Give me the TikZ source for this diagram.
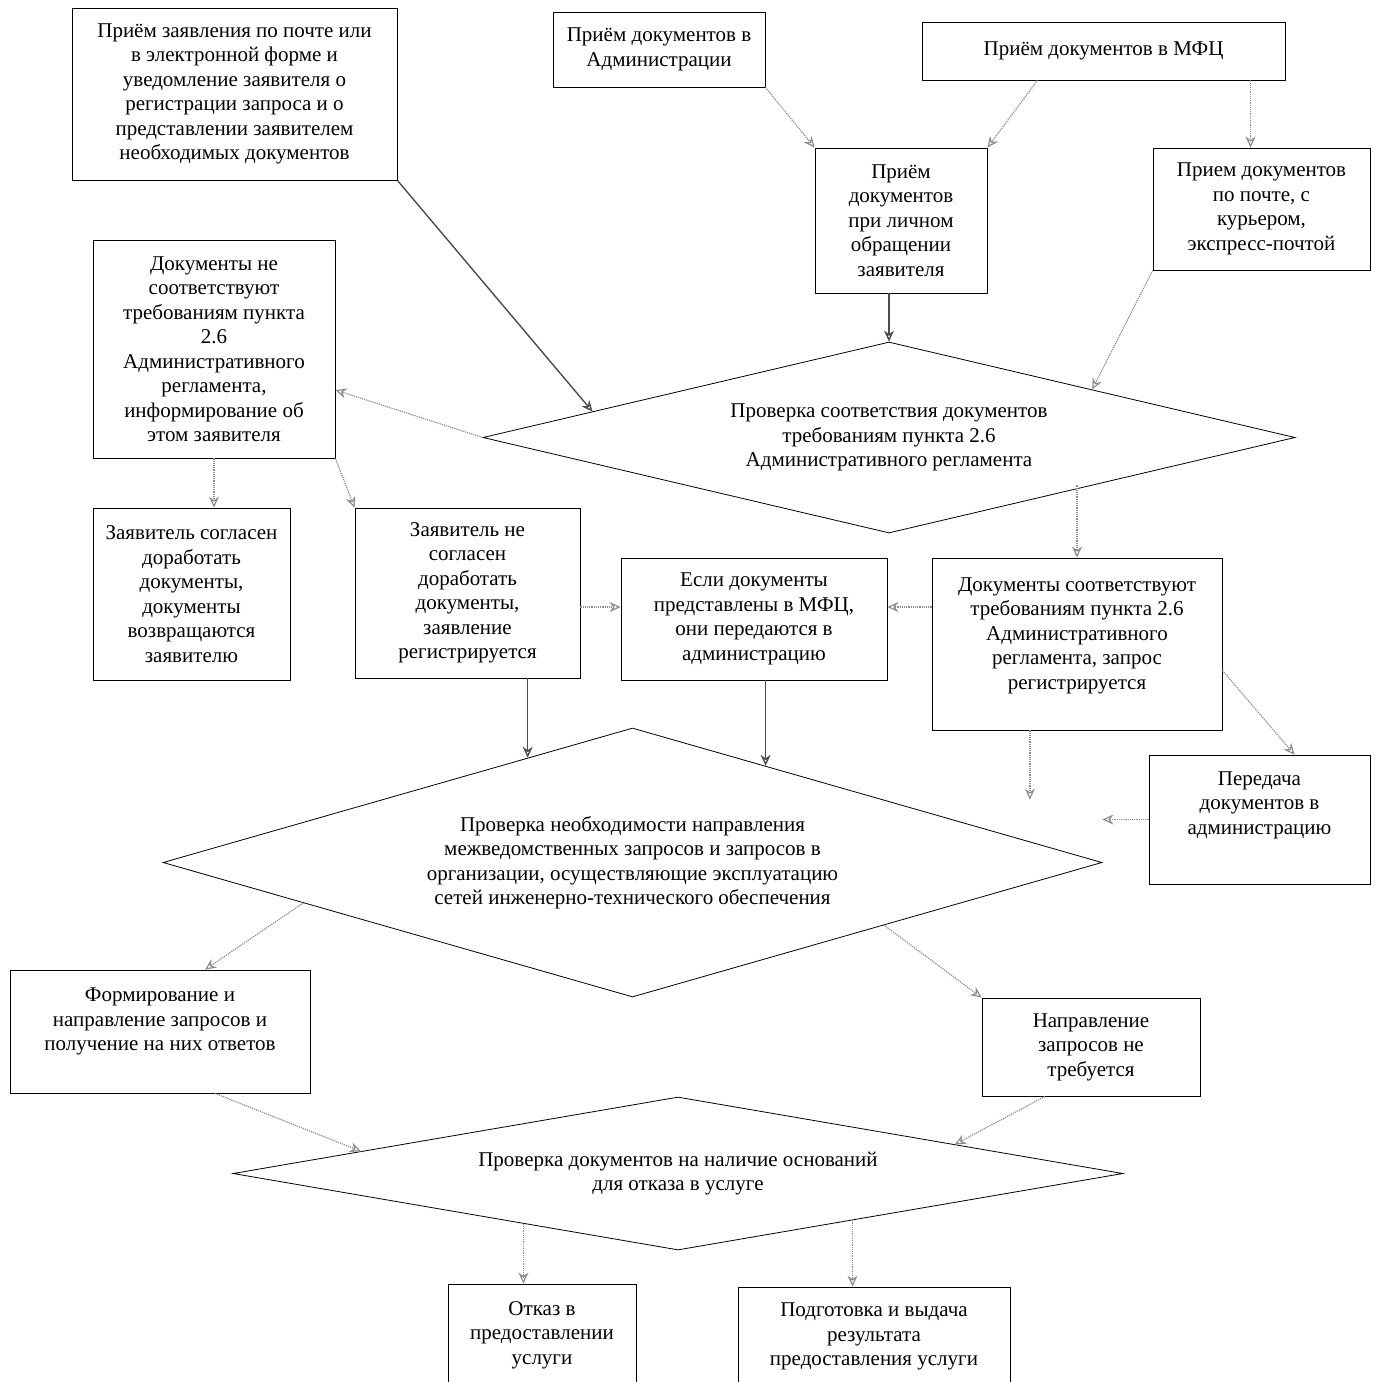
\documentclass[tikz,border=0pt]{standalone}
\usepackage{fontspec}
\setmainfont{Liberation Serif}
\usetikzlibrary{shapes.geometric,arrows.meta}

\begin{document}
\begin{tikzpicture}[x=1pt,y=-1pt,
  blk/.style={draw,thick,inner sep=0pt,align=center,font=\fontsize{21}{24.5}\selectfont},
  dmd/.style={diamond,draw,thick,inner sep=0pt,align=center,font=\fontsize{21}{24.5}\selectfont},
  arr/.style={draw=black!45,densely dotted,line width=1.2pt,-{Stealth[open,length=11pt,width=10pt]}},
  darr/.style={draw=black!70,line width=1.4pt,-{Stealth[open,length=11pt,width=10pt]}}]
\clip (0,0) rectangle (1381,1382);

\node[blk,minimum width=325,minimum height=172] (A) at (234.5,94) {Приём заявления по почте или\\в электронной форме и\\уведомление заявителя о\\регистрации запроса и о\\представлении заявителем\\необходимых документов};
\node[blk,minimum width=212,minimum height=75] (B) at (659,49.5) {Приём документов в\\Администрации};
\node[blk,minimum width=363,minimum height=58] (C) at (1103.5,51) {Приём документов в МФЦ};
\node[blk,minimum width=172,minimum height=145] (D) at (901,220.5) {Приём\\документов\\при личном\\обращении\\заявителя};
\node[blk,minimum width=217,minimum height=122] (E) at (1261.5,209) {Прием документов\\по почте, с\\курьером,\\экспресс-почтой};

\node[dmd,minimum width=812,minimum height=191,aspect=4.25] (D1) at (889,437.5) {Проверка соответствия документов\\требованиям пункта 2.6\\Административного регламента};

\node[blk,minimum width=242,minimum height=218] (F) at (214,349) {Документы не\\соответствуют\\требованиям пункта\\2.6\\Административного\\регламента,\\информирование об\\этом заявителя};
\node[blk,minimum width=197,minimum height=172] (G) at (191.5,594) {Заявитель согласен\\доработать\\документы,\\документы\\возвращаются\\заявителю};
\node[blk,minimum width=225,minimum height=170] (H) at (467.5,593) {Заявитель не\\согласен\\доработать\\документы,\\заявление\\регистрируется};
\node[blk,minimum width=266,minimum height=122] (I) at (754,619) {Если документы\\представлены в МФЦ,\\они передаются в\\администрацию};
\node[blk,minimum width=290,minimum height=172,text depth=21pt] (J) at (1077,644) {Документы соответствуют\\требованиям пункта 2.6\\Административного\\регламента, запрос\\регистрируется};
\node[blk,minimum width=221,minimum height=129,text depth=33pt] (K) at (1259.5,819.5) {Передача\\документов в\\администрацию};

\node[dmd,minimum width=939,minimum height=269,aspect=3.49] (D2) at (632.5,862.5) {Проверка необходимости направления\\межведомственных запросов и запросов в\\организации, осуществляющие эксплуатацию\\сетей инженерно-технического обеспечения};

\node[blk,minimum width=300,minimum height=123,text depth=24pt] (L) at (160,1031.5) {Формирование и\\направление запросов и\\получение на них ответов};
\node[blk,minimum width=218,minimum height=98] (M) at (1091,1047) {Направление\\запросов не\\требуется};

\node[dmd,minimum width=890,minimum height=153,aspect=5.82] (D3) at (678,1173.5) {Проверка документов на наличие оснований\\для отказа в услуге};

\node[blk,minimum width=188,minimum height=102] (N) at (542,1335) {Отказ в\\предоставлении\\услуги};
\node[blk,minimum width=272,minimum height=99] (O) at (874,1336.5) {Подготовка и выдача\\результата\\предоставления услуги};

% arrows
\draw[darr] (A.south east) -- (D1.175);
\draw[arr] (B.south east) -- (D.north west);
\draw[arr] ([xshift=-66pt]C.south) -- (D.north east);
\draw[arr] ([xshift=-11pt]E.north |- C.south) -- ([xshift=-11pt]E.north);
\draw[darr] (D1.north |- D.south) -- (D1.north);
\draw[arr] (E.south west) -- (D1.north east);
\draw[arr] (D1.west) -- ([yshift=-41pt]F.east);
\draw[arr] (F.south) -- (F.south |- G.north);
\draw[arr] (F.south east) -- (H.north west);
\draw[arr] (J.north |- D1.south east) -- (J.north);
\draw[arr] ([yshift=-14pt]H.east) -- ([yshift=-14pt]H.east -| I.west);
\draw[arr] ([yshift=12pt]I.east -| J.west) -- ([yshift=12pt]I.east);
\draw[darr] (D2.135 |- H.south) -- (D2.135);
\draw[darr] (D2.36 |- I.south) -- (D2.36);
\draw[arr] ([yshift=60pt]J.south east) -- ([xshift=35pt]K.north);
\draw[arr,shorten >=42pt] (D2.3 |- J.south) -- (D2.3);
\draw[arr] (K.west) -- (K.west -| D2.east);
\draw[arr] (D2.187) -- ([xshift=45pt]L.north);
\draw[arr] (D2.-14) -- (M.north west);
\draw[arr] ([xshift=55pt]L.south) -- (D3.176);
\draw[arr] ([xshift=-46pt]M.south) -- (D3.6);
\draw[arr] (D3.198) -- (D3.198 |- N.north);
\draw[arr] (D3.-15) -- (D3.-15 |- O.north);
\end{tikzpicture}
\end{document}
